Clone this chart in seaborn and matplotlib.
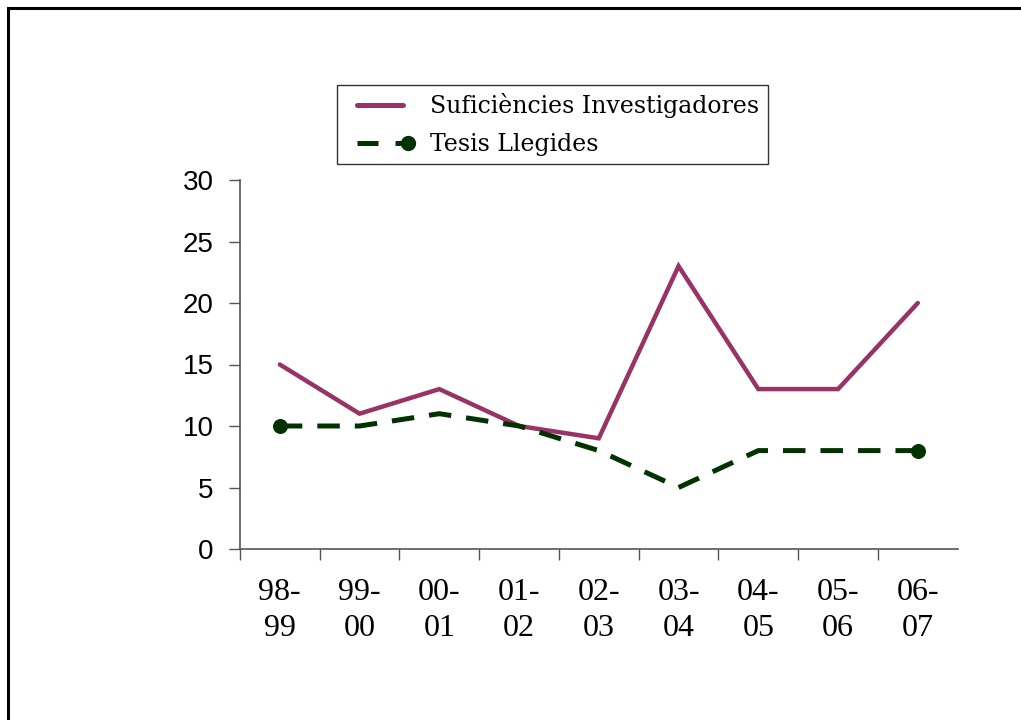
import numpy as np
import pandas as pd
import matplotlib
matplotlib.use("Agg")
import matplotlib.pyplot as plt
from matplotlib.lines import Line2D
from matplotlib.patches import Rectangle
from matplotlib.legend_handler import HandlerLine2D
import seaborn as sns

# === dades ===
cursos = ["98-\n99", "99-\n00", "00-\n01", "01-\n02", "02-\n03",
          "03-\n04", "04-\n05", "05-\n06", "06-\n07"]
suficiencies = [15, 11, 13, 10, 9, 23, 13, 13, 20]
tesis = [10, 10, 11, 10, 8, 5, 8, 8, 8]
y_ticks = [0, 5, 10, 15, 20, 25, 30]

color_suf = "#993366"
color_tesis = "#003300"

sns.set_style("white")
plt.rcParams["font.family"] = ["Liberation Sans", "DejaVu Sans"]
plt.rcParams["text.color"] = "black"

df = pd.DataFrame({"pos": np.arange(len(cursos)),
                   "suf": suficiencies, "tesis": tesis})

fig = plt.figure(figsize=(10.21, 7.2), dpi=100)
ax = fig.add_axes([0.235, 0.2375, 0.703, 0.5125])

sns.lineplot(data=df, x="pos", y="suf", ax=ax, color=color_suf,
             linewidth=3.2, solid_joinstyle="miter", legend=False)
sns.lineplot(data=df, x="pos", y="tesis", ax=ax, color=color_tesis,
             linewidth=3.6, linestyle=(0, (4.5, 3.0)), marker="o",
             markersize=10, markevery=[0, len(cursos) - 1],
             markeredgecolor=color_tesis, legend=False)

# === eixos ===
ax.set_xlim(-0.5, len(cursos) - 0.5)
ax.set_ylim(0, 30)
ax.set_yticks(y_ticks)
ax.set_yticklabels([str(v) for v in y_ticks], fontsize=20)
ax.set_xticks(np.arange(len(cursos)) - 0.5)
ax.set_xticklabels([])
ax.set_xticks(np.arange(len(cursos)), minor=True)
ax.set_xticklabels(cursos, minor=True, fontsize=23,
                   fontfamily="Liberation Serif", linespacing=1.3)
ax.tick_params(axis="x", which="major", direction="out", length=8,
               width=1, color="#555555", bottom=True)
ax.tick_params(axis="x", which="minor", length=0, pad=21,
               labelcolor="black")
ax.tick_params(axis="y", direction="out", length=8, width=1,
               color="#555555", pad=11, left=True, labelcolor="black")
ax.set_xlabel("")
ax.set_ylabel("")
ax.grid(False)
sns.despine(ax=ax)
for s in ["left", "bottom"]:
    ax.spines[s].set_color("#555555")
    ax.spines[s].set_linewidth(1.2)


# === llegenda ===
# línia amb marge a l'esquerra i el punt al final, com a l'original
class HandlerFinal(HandlerLine2D):
    def create_artists(self, legend, orig_handle, xdescent, ydescent,
                       width, height, fontsize, trans):
        y = height / 2 - ydescent
        x0 = -xdescent + 0.17 * width
        x_marc = -xdescent + 0.91 * width
        x1 = x_marc if orig_handle.get_marker() not in (None, "None", "") \
            else -xdescent + 0.85 * width
        linia = Line2D([x0, x1], [y, y])
        self.update_prop(linia, orig_handle, legend)
        linia.set_marker("None")
        linia.set_markevery(None)
        linia.set_transform(trans)
        artistes = [linia]
        if orig_handle.get_marker() not in (None, "None", ""):
            marc = Line2D([x_marc], [y])
            self.update_prop(marc, orig_handle, legend)
            marc.set_linestyle("None")
            marc.set_markevery(None)
            marc.set_transform(trans)
            artistes.append(marc)
        return artistes


handles = [
    Line2D([], [], color=color_suf, linewidth=3.6),
    Line2D([], [], color=color_tesis, linewidth=3.6,
           linestyle=(0, (4.2, 3.4, 20, 1)), marker="o", markersize=10),
]
leg = fig.legend(handles, ["Suficiències Investigadores", "Tesis Llegides"],
                 loc="upper left", bbox_to_anchor=(0.330, 0.882),
                 prop={"family": "DejaVu Serif", "size": 17},
                 frameon=True, fancybox=False, edgecolor="#333333",
                 framealpha=1, borderpad=0.35, labelspacing=0.62,
                 handlelength=2.9, handletextpad=0.7, borderaxespad=0,
                 handler_map={Line2D: HandlerFinal()}, labelcolor="black")
leg.get_frame().set_linewidth(1.0)

# marc de la figura
fig.patches.append(Rectangle((8 / 1021, -0.05), 1.1, 1 - 8 / 720 + 0.05,
                             transform=fig.transFigure, fill=False,
                             edgecolor="black", linewidth=2.2))

fig.savefig("out.png", dpi=100, facecolor="white")
